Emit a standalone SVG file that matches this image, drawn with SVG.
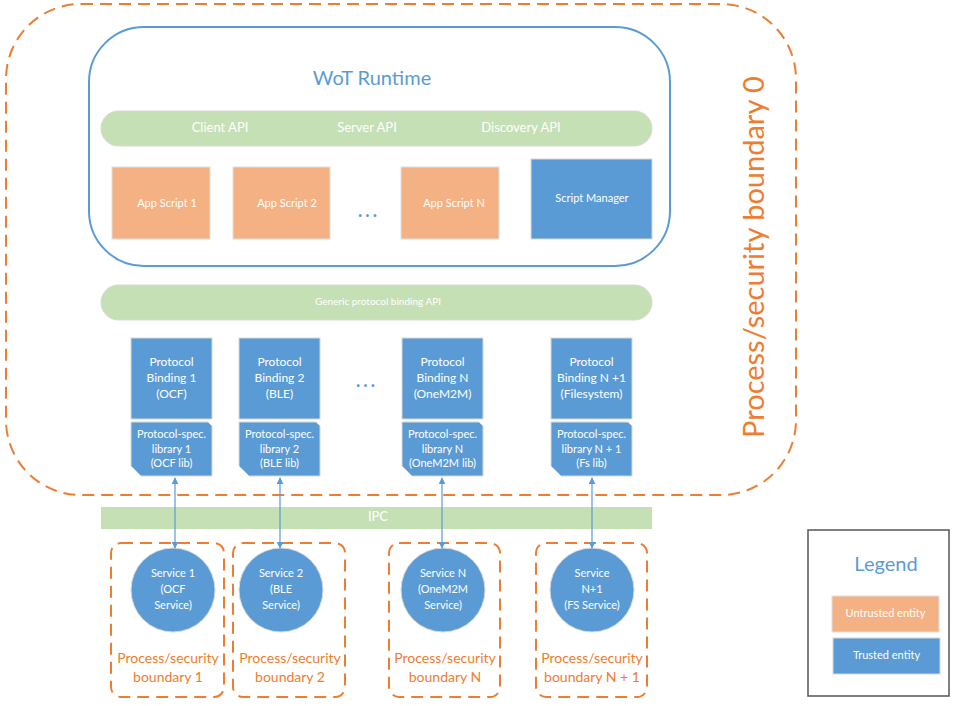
<svg xmlns="http://www.w3.org/2000/svg" width="958" height="706" viewBox="0 0 958 706">
<defs>
<style>
text{font-family:Lato,"Liberation Sans",sans-serif;text-anchor:middle;dominant-baseline:middle}
.wt{fill:#fff;font-size:12px}
.sm{fill:#fff;font-size:11px}
.dash{fill:none;stroke:#ED7D31;stroke-width:2;stroke-dasharray:12 7}
.org{fill:#F4B183;stroke:#E0E0E0;stroke-width:1}
.blu{fill:#5B9BD5;stroke:#D8D8D8;stroke-width:1}
.grn{fill:#C5E0B4;stroke:#D8D8D8;stroke-width:1}
.otx{fill:#ED7D31;font-size:14px}
.dots{fill:#5B9BD5;font-size:18px;font-weight:bold;letter-spacing:3px}
.con{stroke:#5B9BD5;stroke-width:1.2;fill:none;marker-start:url(#ah);marker-end:url(#ah)}
</style>
<marker id="ah" viewBox="0 0 10 10" refX="9" refY="5" markerWidth="7" markerHeight="7" orient="auto-start-reverse" markerUnits="userSpaceOnUse">
<path d="M0,0 L10,5 L0,10 z" fill="#5B9BD5"/>
</marker>
</defs>
<rect width="958" height="706" fill="#fff"/>

<g id="boundary0">
<rect class="dash" x="6" y="4" width="790" height="491" rx="75"/>
<text x="757" y="257" transform="rotate(-90 757 257)" style="fill:#ED7D31;font-size:29px">Process/security boundary 0</text>
</g>

<g id="wot-runtime">
<rect x="89" y="27" width="581" height="239" rx="55" fill="#fff" stroke="#5B9BD5" stroke-width="2"/>
<text x="372" y="80" style="fill:#5B9BD5;font-size:20px">WoT Runtime</text>
</g>

<g id="scripting-api">
<rect class="grn" x="101" y="111" width="551" height="35" rx="17.5"/>
<text class="wt" x="220" y="129" style="font-size:13px">Client API</text>
<text class="wt" x="367" y="129" style="font-size:13px">Server API</text>
<text class="wt" x="521" y="129" style="font-size:13px">Discovery API</text>
</g>

<g id="app-script-1"><rect class="org" x="112" y="167" width="98" height="72"/><text class="sm" x="167" y="204">App Script 1</text></g>
<g id="app-script-2"><rect class="org" x="233" y="167" width="97" height="72"/><text class="sm" x="287" y="204">App Script 2</text></g>
<g id="dots-1"><text class="dots" x="369" y="212">...</text></g>
<g id="app-script-n"><rect class="org" x="401" y="167" width="98" height="72"/><text class="sm" x="454" y="204">App Script N</text></g>
<g id="script-manager"><rect class="blu" x="531" y="159" width="121" height="80"/><text class="sm" x="592" y="199">Script Manager</text></g>

<g id="binding-api">
<rect class="grn" x="101" y="285" width="551" height="35" rx="17.5"/>
<text class="sm" x="378" y="302" style="font-size:10px">Generic protocol binding API</text>
</g>

<g id="binding-1">
<rect class="blu" x="131" y="338" width="81" height="81"/>
<text class="wt" x="171.5" y="363">Protocol</text><text class="wt" x="171.5" y="379">Binding 1</text><text class="wt" x="171.5" y="395">(OCF)</text>
<path class="blu" d="M131,422 H208 L212,426 V476 H141 L131,466 Z"/>
<text class="sm" x="171.5" y="435">Protocol-spec.</text><text class="sm" x="171.5" y="450">library 1</text><text class="sm" x="171.5" y="464">(OCF lib)</text>
</g>
<g id="binding-2">
<rect class="blu" x="239" y="338" width="81" height="81"/>
<text class="wt" x="279.5" y="363">Protocol</text><text class="wt" x="279.5" y="379">Binding 2</text><text class="wt" x="279.5" y="395">(BLE)</text>
<path class="blu" d="M239,422 H316 L320,426 V476 H249 L239,466 Z"/>
<text class="sm" x="279.5" y="435">Protocol-spec.</text><text class="sm" x="279.5" y="450">library 2</text><text class="sm" x="279.5" y="464">(BLE lib)</text>
</g>
<g id="dots-2"><text class="dots" x="367" y="382">...</text></g>
<g id="binding-n">
<rect class="blu" x="402" y="338" width="81" height="81"/>
<text class="wt" x="442.5" y="363">Protocol</text><text class="wt" x="442.5" y="379">Binding N</text><text class="wt" x="442.5" y="395">(OneM2M)</text>
<path class="blu" d="M402,422 H479 L483,426 V476 H412 L402,466 Z"/>
<text class="sm" x="442.5" y="435">Protocol-spec.</text><text class="sm" x="442.5" y="450">library N</text><text class="sm" x="442.5" y="464">(OneM2M lib)</text>
</g>
<g id="binding-n1">
<rect class="blu" x="551" y="338" width="81" height="81"/>
<text class="wt" x="591.5" y="363">Protocol</text><text class="wt" x="591.5" y="379">Binding N +1</text><text class="wt" x="591.5" y="395">(Filesystem)</text>
<path class="blu" d="M551,422 H628 L632,426 V476 H561 L551,466 Z"/>
<text class="sm" x="591.5" y="435">Protocol-spec.</text><text class="sm" x="591.5" y="450">library N + 1</text><text class="sm" x="591.5" y="464">(Fs lib)</text>
</g>

<g id="ipc">
<rect x="101" y="507" width="551" height="22" fill="#C5E0B4"/>
<text class="wt" x="378" y="518" style="font-size:13px">IPC</text>
</g>

<g id="boundary-1"><rect class="dash" x="111" y="543" width="113" height="154" rx="10"/><text class="otx" x="168" y="659">Process/security</text><text class="otx" x="168" y="678">boundary 1</text></g>
<g id="boundary-2"><rect class="dash" x="233" y="543" width="112" height="154" rx="10"/><text class="otx" x="290" y="659">Process/security</text><text class="otx" x="290" y="678">boundary 2</text></g>
<g id="boundary-n"><rect class="dash" x="389" y="543" width="111" height="154" rx="10"/><text class="otx" x="445" y="659">Process/security</text><text class="otx" x="445" y="678">boundary N</text></g>
<g id="boundary-n1"><rect class="dash" x="536" y="543" width="111" height="154" rx="10"/><text class="otx" x="592" y="659">Process/security</text><text class="otx" x="592" y="678">boundary N + 1</text></g>

<g id="service-1"><circle cx="173" cy="590" r="42" class="blu"/><text class="sm" x="173" y="574">Service 1</text><text class="sm" x="173" y="590">(OCF</text><text class="sm" x="173" y="606">Service)</text></g>
<g id="service-2"><circle cx="281" cy="590" r="42" class="blu"/><text class="sm" x="281" y="574">Service 2</text><text class="sm" x="281" y="590">(BLE</text><text class="sm" x="281" y="606">Service)</text></g>
<g id="service-n"><circle cx="443" cy="590" r="42" class="blu"/><text class="sm" x="443" y="574">Service N</text><text class="sm" x="443" y="590">(OneM2M</text><text class="sm" x="443" y="606">Service)</text></g>
<g id="service-n1"><circle cx="592" cy="590" r="42" class="blu"/><text class="sm" x="592" y="574">Service</text><text class="sm" x="592" y="590">N+1</text><text class="sm" x="592" y="606">(FS Service)</text></g>

<g id="connectors">
<line class="con" x1="175" y1="478" x2="175" y2="548"/>
<line class="con" x1="280" y1="478" x2="280" y2="548"/>
<line class="con" x1="442" y1="478" x2="442" y2="548"/>
<line class="con" x1="592" y1="478" x2="592" y2="548"/>
</g>

<g id="legend">
<rect x="808" y="530" width="141" height="166" fill="#fff" stroke="#555" stroke-width="1.5"/>
<text x="886" y="566" style="fill:#5B9BD5;font-size:20px">Legend</text>
<rect class="org" x="832" y="596" width="107" height="36"/>
<text class="sm" x="885.5" y="614">Untrusted entity</text>
<rect class="blu" x="833" y="638" width="107" height="36"/>
<text class="sm" x="886.5" y="656">Trusted entity</text>
</g>
</svg>
